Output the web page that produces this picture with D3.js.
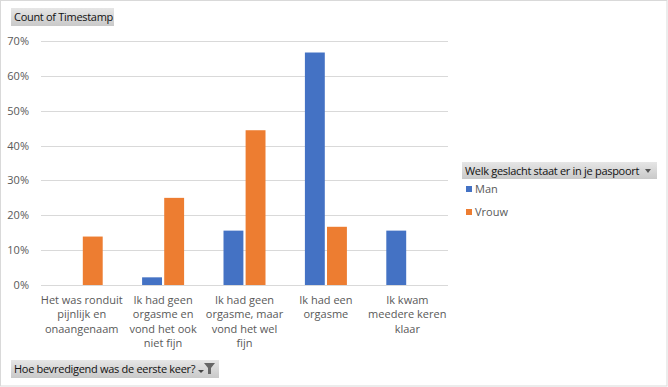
<!DOCTYPE html>
<html>
<head>
<meta charset="utf-8">
<script src="https://cdn.jsdelivr.net/npm/d3@7"></script>
<style>
  body { margin: 0; background: #fff; }
  text { font-family: "Open Sans", "Liberation Sans", sans-serif; }
</style>
</head>
<body>
<div id="chart"></div>
<script>
// categories and wrapped labels
var categories = ["Het was ronduit pijnlijk en onaangenaam",
                  "Ik had geen orgasme en vond het ook niet fijn",
                  "Ik had geen orgasme, maar vond het wel fijn",
                  "Ik had een orgasme",
                  "Ik kwam meedere keren klaar"];
var labelLines = [["Het was ronduit", "pijnlijk en", "onaangenaam"],
                  ["Ik had geen", "orgasme en", "vond het ook", "niet fijn"],
                  ["Ik had geen", "orgasme, maar", "vond het wel", "fijn"],
                  ["Ik had een", "orgasme"],
                  ["Ik kwam", "meedere keren", "klaar"]];
var seriesNames = ["Man", "Vrouw"];
var man   = [null, 0.022, 0.156, 0.667, 0.156];
var vrouw = [0.139, 0.25, 0.444, 0.167, null];
var yTicks = [0, 0.1, 0.2, 0.3, 0.4, 0.5, 0.6, 0.7];
var colors = ["#4472c4", "#ed7d31"];

var W = 668, H = 387;
var svg = d3.select("#chart").append("svg")
    .attr("width", W).attr("height", H);

svg.append("defs").append("linearGradient")
    .attr("id", "btn").attr("x1", 0).attr("y1", 0).attr("x2", 0).attr("y2", 1)
    .selectAll("stop").data([["0%", "#e6e6e6"], ["100%", "#c9c9c9"]]).enter()
    .append("stop").attr("offset", function(d){ return d[0]; })
    .attr("stop-color", function(d){ return d[1]; });

// outer border
svg.append("rect").attr("x", 0.5).attr("y", 0.5)
    .attr("width", W - 1.5).attr("height", H - 1.5)
    .attr("fill", "#fff").attr("stroke", "#d9d9d9");

var x = d3.scaleBand().domain(categories).range([41, 448]);
var xs = d3.scaleBand().domain(seriesNames)
    .range([x.bandwidth() / 2 - 21, x.bandwidth() / 2 + 21]).paddingInner(0.1);
var y = d3.scaleLinear().domain([0, 0.7]).range([285, 41]);

// gridlines
svg.append("g").selectAll("line").data(yTicks).enter().append("line")
    .attr("x1", 41).attr("x2", 448)
    .attr("y1", function(d){ return Math.round(y(d)) + 0.5; })
    .attr("y2", function(d){ return Math.round(y(d)) + 0.5; })
    .attr("stroke", "#d9d9d9").attr("stroke-width", 1);

// y tick labels
svg.append("g").selectAll("text").data(yTicks).enter().append("text")
    .attr("x", 29).attr("y", function(d){ return y(d) + 4; })
    .attr("text-anchor", "end").attr("font-size", 11).attr("fill", "#595959")
    .text(d3.format(".0%"));

// bars
var series = [man, vrouw];
seriesNames.forEach(function(s, si) {
  svg.append("g").selectAll("rect")
    .data(categories.map(function(c, i){ return {c: c, v: series[si][i]}; })
      .filter(function(d){ return d.v != null; }))
    .enter().append("rect")
      .attr("x", function(d){ return x(d.c) + xs(s); })
      .attr("width", xs.bandwidth())
      .attr("y", function(d){ return y(d.v); })
      .attr("height", function(d){ return y(0) - y(d.v); })
      .attr("fill", colors[si]);
});

// category labels
var lab = svg.append("g").selectAll("text").data(categories).enter().append("text")
    .attr("text-anchor", "middle").attr("font-size", 11).attr("fill", "#595959");
lab.each(function(c, i) {
  d3.select(this).selectAll("tspan").data(labelLines[i]).enter().append("tspan")
    .attr("x", x(c) + x.bandwidth() / 2)
    .attr("y", function(d, j){ return 304 + j * 14.3; })
    .text(function(d){ return d; });
});

// field buttons
function button(bx, by, bw, bh, label) {
  svg.append("rect").attr("x", bx).attr("y", by).attr("width", bw).attr("height", bh)
    .attr("fill", "url(#btn)");
  svg.append("text").attr("x", bx + 3).attr("y", by + bh / 2 + 4)
    .attr("font-size", 11).attr("fill", "#111").attr("letter-spacing", -0.3)
    .text(label);
}
button(11, 8, 103, 18, "Count of Timestamp");
button(462, 162, 195, 17, "Welk geslacht staat er in je paspoort");
svg.append("path").attr("d", "M645,169 l6,0 l-3,4 z").attr("fill", "#555");
button(11, 360, 208, 18, "Hoe bevredigend was de eerste keer?");
svg.append("path").attr("d", "M198,370 l6,0 l-3,3 z").attr("fill", "#444");
svg.append("path").attr("d", "M204,363 l11,0 l-4,5 l0,6 l-3,0 l0,-6 z").attr("fill", "#666");

// legend
var leg = svg.append("g").selectAll("g").data(seriesNames).enter().append("g")
    .attr("transform", function(d, i){ return "translate(466," + (186 + i * 23) + ")"; });
leg.append("rect").attr("x", 0).attr("y", 0).attr("width", 6).attr("height", 6)
    .attr("fill", function(d, i){ return colors[i]; });
leg.append("text").attr("x", 9).attr("y", 7).attr("font-size", 11)
    .attr("fill", "#595959").text(function(d){ return d; });
</script>
</body>
</html>
